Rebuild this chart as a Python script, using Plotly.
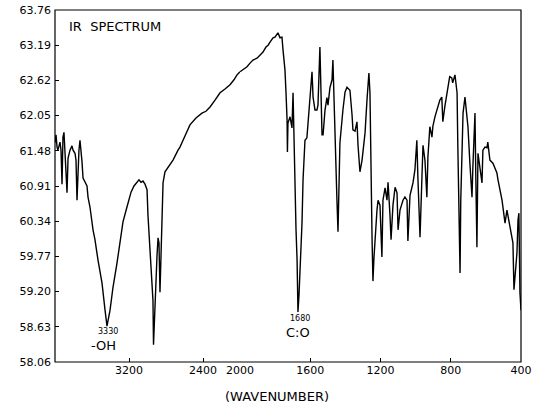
import numpy as np
import plotly.graph_objects as go

# ---- data (wavenumber in cm^-1, transmittance reading) ----
wavenumber = [
    4000, 3989, 3978, 3968, 3946, 3935, 3924, 3914, 3903, 3892, 3881, 3870, 3859, 3838,
    3816, 3805, 3784, 3773, 3762, 3751, 3741, 3730, 3719, 3708, 3697, 3676, 3654, 3643,
    3622, 3589, 3568, 3535, 3492, 3459, 3438, 3405, 3373, 3330, 3297, 3265, 3222, 3178,
    3146, 3114, 3092, 3070, 3049, 3027, 3005, 2995, 2973, 2951, 2941, 2935, 2919, 2897,
    2886, 2876, 2865, 2854, 2843, 2832, 2811, 2757, 2724, 2670, 2649, 2595, 2541, 2476,
    2411, 2368, 2324, 2270, 2216, 2162, 2108, 2065, 2032, 2000,
    1983, 1960, 1943, 1926, 1903, 1886, 1869, 1852, 1840, 1829, 1812, 1801, 1784, 1772,
    1761, 1755, 1744, 1738, 1732, 1730, 1727, 1715, 1704, 1698, 1693, 1687, 1681, 1675,
    1670, 1664, 1658, 1647, 1641, 1630, 1619, 1613, 1601, 1590, 1584, 1573, 1562, 1556,
    1545, 1533, 1527, 1516, 1505, 1499, 1488, 1476, 1471, 1465, 1459, 1448, 1442, 1437,
    1431, 1414, 1402, 1391, 1374, 1362, 1357, 1345, 1334, 1328, 1317, 1305, 1288, 1277,
    1271, 1266, 1260, 1254, 1248, 1243, 1237, 1220, 1214, 1203, 1192, 1186, 1174, 1163,
    1157, 1146, 1140, 1129, 1117, 1106, 1100, 1089, 1078, 1072, 1061, 1049, 1044, 1032,
    1021, 1015, 1004, 993, 987, 975, 964, 958, 947, 936, 930, 919, 907, 902, 890, 879,
    862, 851, 845, 834, 817, 806, 794, 789, 776, 764, 760, 754, 747, 743, 737, 730, 719,
    708, 702, 691, 679, 674, 662, 657, 651, 645, 634, 622, 617, 605, 594, 589, 577, 560,
    537, 531, 508, 491, 480, 463, 446, 440, 429, 423, 417, 412, 406, 400,
]
transmittance = [
    61.61, 61.74, 61.54, 61.49, 61.62, 61.49, 60.94, 61.70, 61.78, 61.46, 61.33, 60.80, 61.36, 61.49,
    61.56, 61.49, 61.44, 61.33, 60.68, 61.30, 61.49, 61.65, 61.49, 61.30, 61.04, 60.97, 60.91, 60.73,
    60.57, 60.20, 60.04, 59.71, 59.34, 58.90, 58.64, 58.90, 59.27, 59.66, 60.04, 60.33, 60.57, 60.81,
    60.91, 60.97, 61.01, 60.97, 60.99, 60.94, 60.85, 60.44, 59.92, 59.47, 59.06, 58.34, 59.06, 59.79,
    60.07, 59.99, 59.19, 59.87, 60.41, 60.96, 61.14, 61.27, 61.33, 61.49, 61.54, 61.72, 61.90, 62.01,
    62.09, 62.12, 62.19, 62.30, 62.42, 62.48, 62.55, 62.63, 62.71, 62.76,
    62.80, 62.84, 62.90, 62.95, 62.98, 63.03, 63.08, 63.16, 63.19, 63.24, 63.31, 63.32, 63.39, 63.31,
    63.32, 63.11, 62.79, 62.42, 61.98, 61.46, 61.93, 62.03, 61.85, 62.42, 61.65, 60.93, 60.20, 59.71,
    58.87, 59.15, 59.50, 60.31, 61.01, 61.65, 61.69, 61.90, 62.30, 62.76, 62.35, 62.14, 62.14, 62.22,
    63.16, 61.74, 61.74, 62.14, 62.34, 62.22, 62.50, 62.63, 62.95, 62.25, 61.65, 60.68, 60.17, 60.68,
    61.61, 62.14, 62.43, 62.51, 62.46, 62.06, 61.82, 61.80, 61.95, 61.57, 61.14, 61.33, 61.77, 62.30,
    62.63, 62.74, 62.42, 60.85, 60.04, 59.37, 59.76, 60.52, 60.68, 60.60, 59.76, 60.68, 60.88, 60.68,
    60.97, 60.44, 60.04, 60.60, 60.89, 60.80, 60.20, 60.52, 60.63, 60.68, 60.73, 60.68, 60.02, 60.76,
    60.89, 60.96, 61.17, 61.65, 61.04, 60.08, 61.06, 61.57, 61.33, 60.73, 61.38, 61.87, 61.70, 61.87, 62.03, 62.14,
    62.30, 62.35, 61.95, 62.19, 62.46, 62.68, 62.66, 62.58, 62.71, 62.42, 61.61, 60.68, 59.50, 60.68, 61.61, 62.09, 62.35,
    62.09, 61.87, 61.28, 60.73, 61.22, 62.09, 61.01, 59.92, 61.44, 61.17, 60.96, 61.49, 61.54, 61.53, 61.62, 61.33, 61.28,
    61.12, 61.01, 60.68, 60.31, 60.52, 60.25, 59.99, 59.23, 59.71, 59.83, 60.36, 60.47, 59.18, 58.90,
]

y_ticks = [58.06, 58.63, 59.20, 59.77, 60.34, 60.91, 61.48, 62.05, 62.62, 63.19, 63.76]
y_tick_labels = ["58.06", "58.63", "59.20", "59.77", "60.34", "60.91", "61.48",
                 "62.05", "62.62", "63.19", "63.76"]
x_ticks_high = [3200, 2400]
x_ticks_low = [2000, 1600, 1200, 800, 400]

wn = np.array(wavenumber, dtype=float)
tr = np.array(transmittance, dtype=float)
hi = wn >= 2000
lo = wn <= 2000

FONT = "DejaVu Sans"
line_style = dict(color="black", width=1.4)

fig = go.Figure()
fig.add_trace(go.Scatter(x=wn[hi], y=tr[hi], mode="lines", line=line_style,
                         xaxis="x", yaxis="y", showlegend=False, hoverinfo="skip"))
fig.add_trace(go.Scatter(x=wn[lo], y=tr[lo], mode="lines", line=line_style,
                         xaxis="x2", yaxis="y", showlegend=False, hoverinfo="skip"))

split = 185 / 466
axis_common = dict(showgrid=False, zeroline=False, showline=False, ticks="inside",
                   ticklen=4, tickwidth=1, tickcolor="black", automargin=False,
                   tickfont=dict(family=FONT, size=11, color="black"))

fig.update_layout(
    width=542, height=406,
    margin=dict(l=55, r=21, t=10, b=44),
    paper_bgcolor="white", plot_bgcolor="white",
    xaxis=dict(domain=[0, split], range=[4000, 2000], anchor="y",
               tickmode="array", tickvals=x_ticks_high,
               ticktext=[str(v) for v in x_ticks_high], **axis_common),
    xaxis2=dict(domain=[split, 1], range=[2000, 400], anchor="y",
                tickmode="array", tickvals=x_ticks_low,
                ticktext=[str(v) for v in x_ticks_low], **axis_common),
    yaxis=dict(range=[58.06, 63.76], anchor="x", tickmode="array",
               tickvals=y_ticks, ticktext=y_tick_labels, ticklabelstandoff=3,
               **axis_common),
    shapes=[dict(type="rect", xref="paper", yref="paper", x0=0, x1=1, y0=0, y1=1,
                 line=dict(color="black", width=1.2), fillcolor="rgba(0,0,0,0)")],
    annotations=[
        dict(text="IR  SPECTRUM", xref="paper", yref="paper", x=0.026, y=0.952,
             xanchor="left", yanchor="middle", showarrow=False,
             font=dict(family=FONT, size=13, color="black")),
        dict(text="(WAVENUMBER)", xref="paper", yref="paper", x=0.476, y=-0.097,
             xanchor="center", yanchor="middle", showarrow=False,
             font=dict(family=FONT, size=13, color="black")),
        dict(text="3330", xref="x", yref="y", x=3427, y=58.55, showarrow=False,
             xanchor="center", yanchor="middle",
             font=dict(family=FONT, size=8, color="black")),
        dict(text="-OH", xref="x", yref="y", x=3475, y=58.32, showarrow=False,
             xanchor="center", yanchor="middle",
             font=dict(family=FONT, size=13, color="black")),
        dict(text="1680", xref="x2", yref="y", x=1660, y=58.77, showarrow=False,
             xanchor="center", yanchor="middle",
             font=dict(family=FONT, size=8, color="black")),
        dict(text="C:O", xref="x2", yref="y", x=1670, y=58.53, showarrow=False,
             xanchor="center", yanchor="middle",
             font=dict(family=FONT, size=13, color="black")),
    ],
)

# remove the browser's default 8px page margin so the figure starts at the window corner
fig.write_html("out.html", config={"displayModeBar": False},
               post_script="document.body.style.margin='0';")
